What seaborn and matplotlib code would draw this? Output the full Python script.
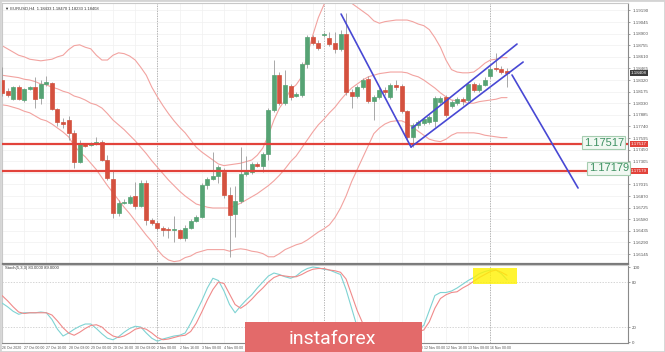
import numpy as np
import pandas as pd
import matplotlib
matplotlib.use("Agg")
import matplotlib.pyplot as plt
import seaborn as sns
from matplotlib.patches import Rectangle

# EURUSD H4 candles (26 Oct - 16 Nov 2020)
open_ = [1.18320, 1.18183, 1.18083, 1.18233, 1.18070, 1.18208, 1.18233, 1.18095, 1.18270, 1.18283,
         1.17958, 1.17795, 1.17820, 1.17658, 1.17295, 1.17520, 1.17508, 1.17520, 1.17545, 1.17320,
         1.17083, 1.16658, 1.16783, 1.16783, 1.16870, 1.16745, 1.17033, 1.16570, 1.16533, 1.16470,
         1.16458, 1.16445, 1.16445, 1.16345, 1.16470, 1.16558, 1.16608, 1.17008, 1.17083, 1.17120,
         1.17170, 1.16883, 1.16645, 1.16808, 1.17145, 1.17170, 1.17270, 1.17245, 1.17395, 1.17945,
         1.18383, 1.18033, 1.18245, 1.18120, 1.18133, 1.18520, 1.18858, 1.18783, 1.18883, 1.18845,
         1.18783, 1.18708, 1.18895, 1.18170, 1.18120, 1.18233, 1.18333, 1.18058, 1.18108, 1.18195,
         1.18108, 1.18258, 1.18245, 1.17933, 1.17608, 1.17758, 1.17783, 1.17795, 1.17808, 1.18045,
         1.18108, 1.17995, 1.18033, 1.18083, 1.18070, 1.18270, 1.18195, 1.18258, 1.18370, 1.18470,
         1.18458, 1.18433]
high = [1.18483, 1.18220, 1.18245, 1.18258, 1.18220, 1.18245, 1.18358, 1.18320, 1.18370, 1.18295,
        1.17970, 1.17845, 1.17870, 1.17695, 1.17570, 1.17533, 1.17545, 1.17608, 1.17570, 1.17383,
        1.17195, 1.16820, 1.16833, 1.16883, 1.17045, 1.17070, 1.17070, 1.16595, 1.16558, 1.16495,
        1.16483, 1.16620, 1.16458, 1.16508, 1.16583, 1.16633, 1.17033, 1.17108, 1.17420, 1.17258,
        1.17220, 1.16983, 1.16995, 1.17483, 1.17370, 1.17295, 1.17295, 1.17420, 1.17970, 1.18570,
        1.18420, 1.18445, 1.18270, 1.18170, 1.18545, 1.18883, 1.18883, 1.18820, 1.18920, 1.18920,
        1.18920, 1.18945, 1.19158, 1.18208, 1.18258, 1.18345, 1.18370, 1.18133, 1.18233, 1.18233,
        1.18283, 1.18320, 1.18270, 1.17945, 1.17783, 1.17820, 1.17858, 1.17883, 1.18120, 1.18120,
        1.18133, 1.18070, 1.18108, 1.18108, 1.18295, 1.18295, 1.18283, 1.18358, 1.18495, 1.18658,
        1.18495, 1.18470]
low = [1.18120, 1.18108, 1.18070, 1.18070, 1.18045, 1.18195, 1.17970, 1.18020, 1.18245, 1.17945,
       1.17745, 1.17720, 1.17570, 1.17220, 1.17283, 1.17483, 1.17495, 1.17508, 1.17308, 1.17070,
       1.16595, 1.16620, 1.16770, 1.16770, 1.16708, 1.16733, 1.16508, 1.16508, 1.16445, 1.16370,
       1.16345, 1.16295, 1.16333, 1.16308, 1.16458, 1.16545, 1.16595, 1.16958, 1.17070, 1.17033,
       1.16845, 1.16108, 1.16358, 1.16783, 1.17120, 1.17145, 1.17233, 1.17170, 1.17320, 1.17920,
       1.18008, 1.18008, 1.18070, 1.18108, 1.18108, 1.18470, 1.18758, 1.18695, 1.18858, 1.18745,
       1.18658, 1.18683, 1.18133, 1.17970, 1.18095, 1.18208, 1.18033, 1.17820, 1.18083, 1.18133,
       1.18083, 1.18195, 1.17908, 1.17570, 1.17483, 1.17720, 1.17758, 1.17770, 1.17733, 1.18020,
       1.17858, 1.17970, 1.18008, 1.18008, 1.18045, 1.18170, 1.18170, 1.18245, 1.18345, 1.18433,
       1.18395, 1.18233]
close = [1.18158, 1.18133, 1.18233, 1.18083, 1.18208, 1.18233, 1.18083, 1.18270, 1.18295, 1.17958,
         1.17795, 1.17770, 1.17658, 1.17295, 1.17533, 1.17495, 1.17533, 1.17545, 1.17320, 1.17095,
         1.16658, 1.16783, 1.16795, 1.16858, 1.16745, 1.17033, 1.16570, 1.16533, 1.16470, 1.16445,
         1.16445, 1.16458, 1.16345, 1.16470, 1.16558, 1.16608, 1.17008, 1.17083, 1.17120, 1.17233,
         1.16883, 1.16633, 1.16808, 1.17145, 1.17170, 1.17270, 1.17245, 1.17395, 1.17945, 1.18383,
         1.18033, 1.18258, 1.18108, 1.18145, 1.18520, 1.18858, 1.18783, 1.18720, 1.18895, 1.18770,
         1.18708, 1.18895, 1.18170, 1.18120, 1.18233, 1.18320, 1.18058, 1.18108, 1.18195, 1.18170,
         1.18258, 1.18233, 1.17933, 1.17608, 1.17758, 1.17795, 1.17833, 1.17858, 1.18095, 1.18095,
         1.17883, 1.18045, 1.18083, 1.18058, 1.18270, 1.18195, 1.18258, 1.18320, 1.18458, 1.18458,
         1.18420, 1.18408]

# Bollinger bands as drawn on the chart
bb_upper = [1.1875, 1.1871, 1.1867, 1.1863, 1.1861, 1.1858, 1.1857, 1.1856, 1.1857, 1.1858,
            1.1861, 1.1863, 1.1870, 1.1875, 1.1876, 1.1873, 1.1871, 1.1863, 1.1857, 1.1857,
            1.1863, 1.1866, 1.1865, 1.1862, 1.1857, 1.1848, 1.1838, 1.1823, 1.1811, 1.1800,
            1.1790, 1.1781, 1.1773, 1.1766, 1.1757, 1.1748, 1.1742, 1.1737, 1.1732, 1.1727,
            1.1725, 1.1726, 1.1727, 1.1728, 1.1730, 1.1732, 1.1738, 1.1747, 1.1763, 1.1782,
            1.1797, 1.1807, 1.1820, 1.1826, 1.1836, 1.1863, 1.1888, 1.1910, 1.1926, 1.1938,
            1.1945, 1.1942, 1.1935, 1.1928, 1.1923, 1.1918, 1.1913, 1.1906, 1.1903, 1.1905,
            1.1906, 1.1907, 1.1907, 1.1907, 1.1905, 1.1902, 1.1900, 1.1895, 1.1885, 1.1873,
            1.1857, 1.1845, 1.1842, 1.1841, 1.1841, 1.1842, 1.1847, 1.1853, 1.1857, 1.1858,
            1.1860, 1.1860]
bb_middle = [1.1838, 1.1837, 1.1836, 1.1835, 1.1833, 1.1832, 1.1830, 1.1827, 1.1826, 1.1823,
             1.1821, 1.1818, 1.1816, 1.1812, 1.1810, 1.1807, 1.1803, 1.1801, 1.1797, 1.1790,
             1.1782, 1.1776, 1.1770, 1.1763, 1.1756, 1.1748, 1.1740, 1.1731, 1.1723, 1.1715,
             1.1707, 1.1700, 1.1693, 1.1687, 1.1682, 1.1677, 1.1675, 1.1673, 1.1672, 1.1672,
             1.1672, 1.1672, 1.1675, 1.1678, 1.1682, 1.1686, 1.1690, 1.1695, 1.1700, 1.1706,
             1.1713, 1.1721, 1.1730, 1.1737, 1.1747, 1.1757, 1.1767, 1.1776, 1.1783, 1.1791,
             1.1798, 1.1807, 1.1815, 1.1822, 1.1827, 1.1832, 1.1836, 1.1838, 1.1840, 1.1841,
             1.1842, 1.1842, 1.1842, 1.1841, 1.1838, 1.1836, 1.1832, 1.1827, 1.1822, 1.1816,
             1.1811, 1.1807, 1.1806, 1.1805, 1.1803, 1.1803, 1.1805, 1.1806, 1.1807, 1.1808,
             1.1810, 1.1810]
bb_lower = [1.1801, 1.1800, 1.1798, 1.1796, 1.1793, 1.1791, 1.1787, 1.1783, 1.1781, 1.1777,
            1.1772, 1.1767, 1.1761, 1.1750, 1.1742, 1.1736, 1.1728, 1.1720, 1.1710, 1.1700,
            1.1691, 1.1682, 1.1673, 1.1665, 1.1656, 1.1647, 1.1638, 1.1630, 1.1620, 1.1612,
            1.1607, 1.1605, 1.1606, 1.1610, 1.1612, 1.1616, 1.1618, 1.1620, 1.1620, 1.1620,
            1.1620, 1.1618, 1.1620, 1.1621, 1.1620, 1.1618, 1.1617, 1.1615, 1.1611, 1.1611,
            1.1615, 1.1620, 1.1623, 1.1626, 1.1628, 1.1632, 1.1637, 1.1642, 1.1646, 1.1651,
            1.1660, 1.1672, 1.1687, 1.1705, 1.1720, 1.1735, 1.1750, 1.1765, 1.1772, 1.1777,
            1.1780, 1.1781, 1.1781, 1.1778, 1.1773, 1.1768, 1.1763, 1.1758, 1.1756, 1.1755,
            1.1758, 1.1763, 1.1766, 1.1766, 1.1766, 1.1766, 1.1765, 1.1763, 1.1762, 1.1761,
            1.1760, 1.1760]

# Stochastic (5,3,3)
stoch_main = [52, 47, 41, 37, 39, 39, 39, 40, 39, 30,
              17, 8, 12, 17, 21, 24, 24, 18, 11, 5,
              3, 7, 13, 18, 21, 20, 12, 5, 1, 4,
              6, 8, 9, 12, 25, 40, 55, 72, 85, 82,
              68, 50, 39, 48, 56, 63, 72, 80, 88, 92,
              90, 87, 85, 88, 94, 98, 100, 99, 97, 96,
              93, 90, 70, 45, 20, 9, 6, 5, 5, 6,
              8, 10, 12, 14, 16, 18, 22, 42, 62, 66,
              66, 68, 72, 77, 82, 86, 91, 94, 96, 96,
              91, 83]
stoch_signal = [62, 55, 47, 40, 38, 39, 39, 39, 39, 36,
                28, 19, 12, 9, 13, 18, 22, 23, 20, 13,
                8, 6, 8, 12, 17, 19, 17, 12, 6, 3,
                4, 6, 8, 9, 14, 25, 40, 56, 70, 80,
                78, 64, 50, 45, 50, 57, 65, 72, 80, 86,
                89, 88, 87, 87, 90, 94, 97, 98, 98, 96,
                95, 93, 84, 63, 42, 25, 14, 8, 6, 6,
                7, 8, 10, 11, 12, 14, 16, 27, 45, 58,
                63, 66, 67, 72, 76, 81, 86, 90, 94, 96,
                93, 89]

# analyst drawings (bar index, price)
trend_down_x = [61.1, 73.7]
trend_down_y = [1.19145, 1.17483]
channel_top_x = [73.9, 92.8]
channel_top_y = [1.17720, 1.18770]
channel_bot_x = [73.7, 93.9]
channel_bot_y = [1.17483, 1.18545]
target_x = [91.9, 103.8]
target_y = [1.18383, 1.16970]
levels = [1.17517, 1.17179]
level_labels = ['1.17517', '1.17179']
level_label_x = [104.8, 105.7]
level_label_y = [1.17535, 1.17215]

separators = [28, 58, 88]
date_ticks = list(range(0, 92, 4))
date_labels = ['26 Oct 2020', '27 Oct 00:00', '27 Oct 16:00', '28 Oct 08:00', '29 Oct 00:00',
               '29 Oct 16:00', '30 Oct 08:00', '2 Nov 00:00', '2 Nov 16:00', '3 Nov 08:00',
               '4 Nov 00:00', '4 Nov 16:00', '5 Nov 08:00', '6 Nov 00:00', '6 Nov 16:00',
               '9 Nov 08:00', '10 Nov 00:00', '10 Nov 16:00', '11 Nov 08:00', '12 Nov 00:00',
               '12 Nov 16:00', '13 Nov 08:00', '16 Nov 00:00']
price_ticks = [1.19190, 1.19045, 1.18900, 1.18755, 1.18610, 1.18465, 1.18320, 1.18175,
               1.18030, 1.17885, 1.17740, 1.17595, 1.17450, 1.17305, 1.17160, 1.17015,
               1.16870, 1.16725, 1.16580, 1.16435, 1.16290, 1.16145]
stoch_ticks = [0, 20, 80, 100]

df = pd.DataFrame({'open': open_, 'high': high, 'low': low, 'close': close,
                   'upper': bb_upper, 'middle': bb_middle, 'lower': bb_lower,
                   'k': stoch_main, 'd': stoch_signal})
df['idx'] = np.arange(len(df))

sns.set_style("white")
plt.rcParams['font.family'] = ['Liberation Sans', 'DejaVu Sans']

W, H = 665, 352
fig = plt.figure(figsize=(W / 100, H / 100), dpi=100)
ax = fig.add_axes([2 / W, 88 / H, 626 / W, 261 / H])
ax2 = fig.add_axes([2 / W, 9 / H, 626 / W, 78 / H])

GREEN = '#56a374'
RED = '#d4513f'
BAND = '#f2a3a0'
BLUE = '#4848d4'
GRID = '#f0f0f0'

for a in (ax, ax2):
    a.set_xlim(0, 112.8)
    for s in a.spines.values():
        s.set_color('#c8c8c8')
        s.set_linewidth(0.8)
    a.spines['right'].set_color('#8a8a8a')
    for sx in separators:
        a.axvline(sx, color='#a8a8a8', lw=0.6, ls=(0, (1.5, 1.5)), zorder=1)
    for t in date_ticks:
        a.axvline(t, color=GRID, lw=0.5, zorder=0)

ax.spines['bottom'].set_color('#7a7a7a')
ax.spines['bottom'].set_linewidth(1.6)
ax2.spines['bottom'].set_color('#8a8a8a')

# price panel
ax.set_ylim(1.1602, 1.19283)
for p in price_ticks:
    ax.axhline(p, color=GRID, lw=0.5, zorder=0)

sns.lineplot(data=df, x='idx', y='upper', ax=ax, color=BAND, lw=0.8, zorder=2)
sns.lineplot(data=df, x='idx', y='middle', ax=ax, color=BAND, lw=0.8, zorder=2)
sns.lineplot(data=df, x='idx', y='lower', ax=ax, color=BAND, lw=0.8, zorder=2)

up = df['close'] >= df['open']
colors = np.where(up, GREEN, RED)
ax.vlines(df['idx'], df['low'], df['high'], color='#9a9a9a', lw=0.6, zorder=3)
ax.bar(df['idx'], df['close'] - df['open'], bottom=df['open'], width=0.72,
       color=colors, edgecolor=colors, linewidth=0.5, zorder=4)

for lv in levels:
    ax.axhline(lv, color='#e2433b', lw=1.6, zorder=5)

ax.plot(trend_down_x, trend_down_y, color=BLUE, lw=1.2, zorder=6)
ax.plot(channel_top_x, channel_top_y, color=BLUE, lw=1.2, zorder=6)
ax.plot(channel_bot_x, channel_bot_y, color=BLUE, lw=1.2, zorder=6)
ax.plot(target_x, target_y, color=BLUE, lw=1.2, zorder=6)

for lx, ly, lt in zip(level_label_x, level_label_y, level_labels):
    ax.text(lx, ly, lt, fontsize=8, color='#3f9163', ha='left', va='center', zorder=8,
            bbox=dict(boxstyle='square,pad=0.12', fc='#f1f8f2', ec='#a6cdb0', lw=0.8))

# tick labels hidden behind the level price boxes on the axis
tick_text = ['' if min(abs(p - lv) for lv in levels) < 0.0005 else f'{p:.5f}'
             for p in price_ticks]
ax.yaxis.tick_right()
ax.set_yticks(price_ticks)
ax.set_yticklabels(tick_text)
ax.tick_params(axis='y', labelsize=3.2, colors='#555555', length=1.5, width=0.4, pad=1.5)
ax.tick_params(axis='x', bottom=False, labelbottom=False)
ax.set_xlabel('')
ax.set_ylabel('')

for lv, lt in zip(levels, level_labels):
    ax.annotate(lt, xy=(1.0, lv), xycoords=('axes fraction', 'data'), xytext=(2, 0),
                textcoords='offset points', fontsize=3.2, color='white', va='center',
                bbox=dict(boxstyle='square,pad=0.2', fc='#e2433b', ec='none'))
ax.annotate(f'{close[-1]:.5f}', xy=(1.0, close[-1]), xycoords=('axes fraction', 'data'),
            xytext=(2, 0), textcoords='offset points', fontsize=3.2, color='white',
            va='center', bbox=dict(boxstyle='square,pad=0.2', fc='#3c3c3c', ec='none'))

ax.text(0.004, 0.988, f'\u25bc EURUSD,H4  {open_[-1]:.5f} {high[-1]:.5f} {low[-1]:.5f} {close[-1]:.5f}',
        transform=ax.transAxes, fontsize=3, color='#333333', va='top', ha='left')

# stochastic panel
ax2.set_ylim(-1.33, 102.7)
for lv in (20, 80):
    ax2.axhline(lv, color='#c4c4c4', lw=0.5, ls=(0, (2, 2)), zorder=1)
sns.lineplot(data=df, x='idx', y='k', ax=ax2, color='#7fd3d3', lw=0.8, zorder=3)
sns.lineplot(data=df, x='idx', y='d', ax=ax2, color='#f08a8a', lw=0.8, zorder=3)
ax2.add_patch(Rectangle((84.9, 77.3), 7.9, 21.4, fc='#fff200', ec='none', alpha=0.8, zorder=4))

ax2.yaxis.tick_right()
ax2.set_yticks(stoch_ticks)
ax2.set_yticklabels([str(t) for t in stoch_ticks])
ax2.tick_params(axis='y', labelsize=3.2, colors='#555555', length=1.5, width=0.4, pad=1.5)
ax2.set_xticks(date_ticks)
ax2.set_xticklabels(date_labels, ha='left')
ax2.tick_params(axis='x', labelsize=2.5, colors='#555555', length=1.5, width=0.4, pad=1)
ax2.set_xlabel('')
ax2.set_ylabel('')
ax2.text(0.004, 0.985, f'Stoch(5,3,3) {stoch_main[-1]:.4f} {stoch_signal[-1]:.4f}',
         transform=ax2.transAxes, fontsize=3, color='#333333', va='top', ha='left')

# frame and watermark
fig.patches.append(Rectangle((0, 0), 1, 1, transform=fig.transFigure, fill=False,
                             ec='#d4d4d4', lw=2, zorder=0))
fig.patches.append(Rectangle((245 / W, 0), 177 / W, 30 / H, transform=fig.transFigure,
                             fc='#e36a6a', ec='none', zorder=10))
fig.text(332 / W, 13 / H, 'instaforex', color='white', fontsize=14, ha='center', va='center',
         family=['Roboto', 'DejaVu Sans'], zorder=11)

fig.savefig('out.png', dpi=100, facecolor='white')
plt.close(fig)
